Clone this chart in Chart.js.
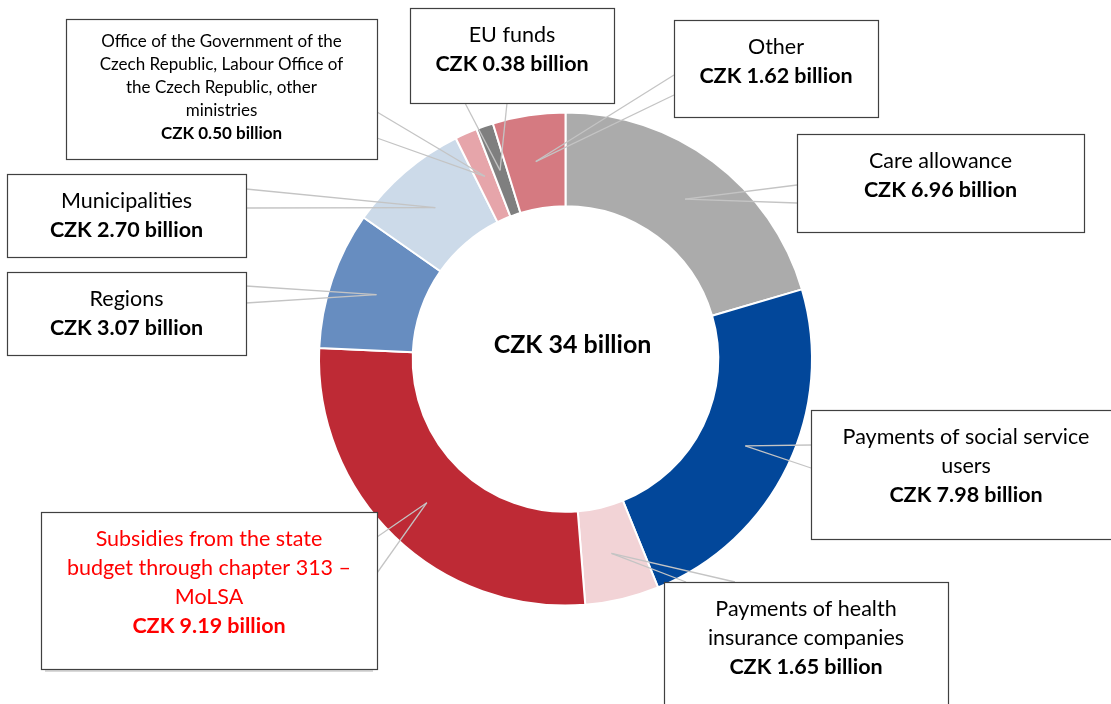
<!DOCTYPE html>
<html>
<head>
<meta charset="utf-8">
<script src="https://cdn.jsdelivr.net/npm/chart.js@4"></script>
<style>
    html, body { margin: 0; padding: 0; background: #fff; }
</style>
</head>
<body>
<canvas id="Sources" width="1111" height="704"></canvas>
<script>
// segments, clockwise from 12 o'clock
var categories = ["Care allowance", "Payments of social service users", "Payments of health insurance companies",
    "Subsidies from the state budget through chapter 313 – MoLSA", "Regions", "Municipalities",
    "Office of the Government of the Czech Republic, Labour Office of the Czech Republic, other ministries",
    "EU funds", "Other"];
var nameLines = [
    ["Care allowance"],
    ["Payments of social service", "users"],
    ["Payments of health", "insurance companies"],
    ["Subsidies from the state", "budget through chapter 313 –", "MoLSA"],
    ["Regions"],
    ["Municipalities"],
    ["Office of the Government of the", "Czech Republic, Labour Office of", "the Czech Republic, other", "ministries"],
    ["EU funds"],
    ["Other"]
];
var values = [6.96, 7.98, 1.65, 9.19, 3.07, 2.70, 0.50, 0.38, 1.62];
var totalLabel = "CZK 34 billion";

var colors = ["#ABABAB", "#02479A", "#F2D3D6", "#BE2A35", "#678DC0", "#CCDAE9", "#E6A5AA", "#7F7F7F", "#D57A81"];

// callout boxes: x, y, w, h, side where the leaders leave, two offsets on that side
var boxes = [
    { x: 797, y: 134, w: 287, h: 98, side: "left", a: 51, b: 69, size: 21.5 },
    { x: 811, y: 410, w: 310, h: 129, side: "left", a: 35, b: 58, size: 21.5 },
    { x: 664, y: 582, w: 284, h: 140, side: "top", a: 22, b: 71, size: 21.5 },
    { x: 41, y: 512, w: 336, h: 157, side: "right", a: 25, b: 61, size: 21.5, color: "#FF0000", shadow: true },
    { x: 7, y: 272, w: 239, h: 83, side: "right", a: 14, b: 31, size: 21.5 },
    { x: 7, y: 174, w: 239, h: 83, side: "right", a: 15, b: 34, size: 21.5 },
    { x: 66, y: 19, w: 311, h: 140, side: "right", a: 93, b: 119, size: 17, lh: 22.8, top: 23 },
    { x: 410, y: 8, w: 204, h: 95, side: "bottom", a: 55, b: 97, size: 21.5 },
    { x: 674, y: 20, w: 204, h: 97, side: "left", a: 55, b: 75, size: 21.5 }
];

var FONT = "Lato, 'Open Sans', sans-serif";

function valueText(v) {
    return "CZK " + v.toFixed(2) + " billion";
}

var calloutPlugin = {
    id: "callouts",
    afterDraw: function (chart) {
        var ctx = chart.ctx;
        var arcs = chart.getDatasetMeta(0).data;

        // leader lines
        ctx.save();
        ctx.strokeStyle = "#C4C4C4";
        ctx.lineWidth = 1.3;
        arcs.forEach(function (arc, i) {
            var p = arc.getProps(["x", "y", "startAngle", "endAngle", "innerRadius", "outerRadius"], true);
            var ang = (p.startAngle + p.endAngle) / 2;
            var r = (p.innerRadius + p.outerRadius) / 2;
            var ax = p.x + Math.cos(ang) * r;
            var ay = p.y + Math.sin(ang) * r;
            var bx = boxes[i];
            var ends;
            if (bx.side == "left") ends = [[bx.x, bx.y + bx.a], [bx.x, bx.y + bx.b]];
            else if (bx.side == "right") ends = [[bx.x + bx.w, bx.y + bx.a], [bx.x + bx.w, bx.y + bx.b]];
            else if (bx.side == "top") ends = [[bx.x + bx.a, bx.y], [bx.x + bx.b, bx.y]];
            else ends = [[bx.x + bx.a, bx.y + bx.h], [bx.x + bx.b, bx.y + bx.h]];
            ends.forEach(function (e) {
                ctx.beginPath();
                ctx.moveTo(e[0], e[1]);
                ctx.lineTo(ax, ay);
                ctx.stroke();
            });
        });
        ctx.restore();

        // boxes with text
        boxes.forEach(function (bx, i) {
            ctx.save();
            if (bx.shadow) {
                ctx.fillStyle = "#D9D9D9";
                ctx.fillRect(bx.x + 4, bx.y + bx.h, bx.w - 8, 3);
            }
            ctx.fillStyle = "#fff";
            ctx.fillRect(bx.x, bx.y, bx.w, bx.h);
            ctx.strokeStyle = "#404040";
            ctx.lineWidth = 1.2;
            ctx.strokeRect(bx.x + 0.5, bx.y + 0.5, bx.w, bx.h);

            var lh = bx.lh || 29;
            var ty = bx.y + (bx.top || 27);
            var cx = bx.x + bx.w / 2;
            ctx.fillStyle = bx.color || "#000";
            ctx.textAlign = "center";
            ctx.textBaseline = "middle";
            ctx.font = bx.size + "px " + FONT;
            nameLines[i].forEach(function (line) {
                ctx.fillText(line, cx, ty);
                ty += lh;
            });
            ctx.font = "bold " + bx.size + "px " + FONT;
            ctx.fillText(valueText(values[i]), cx, ty);
            ctx.restore();
        });

        // total in the hole
        var c = arcs[0];
        ctx.save();
        ctx.fillStyle = "#000";
        ctx.textAlign = "center";
        ctx.textBaseline = "middle";
        ctx.font = "bold 25px " + FONT;
        ctx.fillText(totalLabel, c.x + 7, c.y - 14);
        ctx.restore();
    }
};

var sourcesChart = new Chart(document.getElementById("Sources"), {
    type: "doughnut",
    data: {
        labels: categories,
        datasets: [{
            data: values,
            backgroundColor: colors,
            borderColor: "#fff",
            borderWidth: 2,
            hoverOffset: 0
        }]
    },
    options: {
        responsive: false,
        animation: false,
        cutout: "62%",
        layout: {
            padding: { top: 111, bottom: 97, left: 318, right: 298 }
        },
        plugins: {
            legend: { display: false },
            tooltip: { enabled: false }
        }
    },
    plugins: [calloutPlugin]
});
</script>
</body>
</html>
